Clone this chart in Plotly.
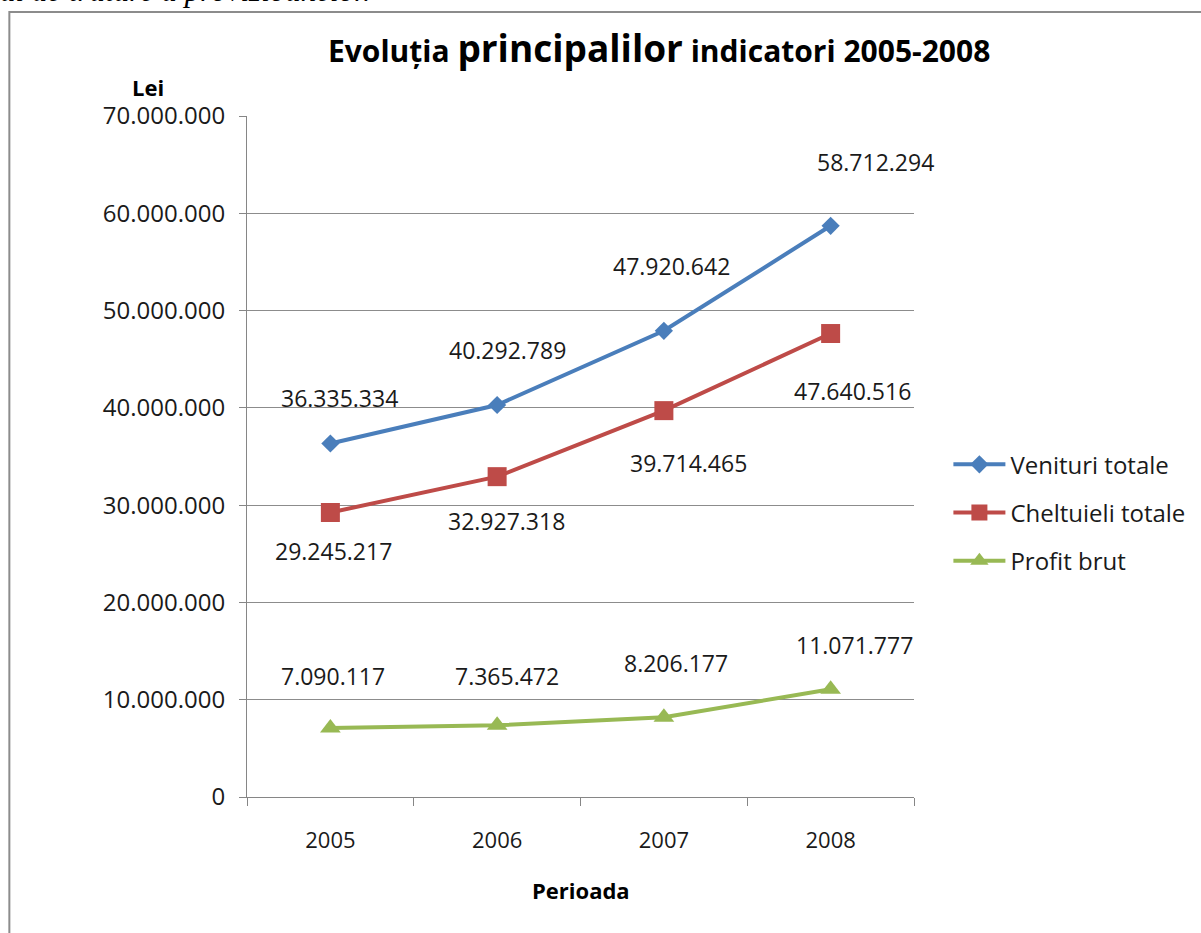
import plotly.graph_objects as go

years = ["2005", "2006", "2007", "2008"]
venituri = [36335334, 40292789, 47920642, 58712294]
cheltuieli = [29245217, 32927318, 39714465, 47640516]
profit = [7090117, 7365472, 8206177, 11071777]
series_names = ["Venituri totale", "Cheltuieli totale", "Profit brut"]
y_ticks = [0, 10000000, 20000000, 30000000, 40000000, 50000000, 60000000, 70000000]

colors = ["#4A7EBB", "#BE4B48", "#98B954"]
symbols = ["diamond", "square", "triangle-up"]
msizes = [14, 19, 18]

# label offsets (pixels) for each series/point
label_dx = [[9, 10, 8, 45], [3, 9, 25, 22], [3, 10, 12, 24]]
label_dy = [[46, 55, 65, 64], [-39, -44, -52, -57], [52, 49, 54, 44]]

FONT = "Open Sans"

def fmt(v):
    return f"{v:,}".replace(",", ".")

fig = go.Figure()
all_series = [venituri, cheltuieli, profit]
for i, vals in enumerate(all_series):
    fig.add_trace(go.Scatter(
        x=years, y=vals, mode="lines+markers", name=series_names[i],
        legendgroup=f"g{i}",
        line=dict(color=colors[i], width=4),
        marker=dict(symbol=symbols[i], size=msizes[i], color=colors[i]),
    ))

annotations = []
for i, vals in enumerate(all_series):
    for j, v in enumerate(vals):
        annotations.append(dict(
            x=j, y=v, xref="x", yref="y", text=fmt(v), showarrow=False,
            xanchor="center", yanchor="middle",
            xshift=label_dx[i][j], yshift=label_dy[i][j],
            font=dict(family=FONT, size=23, color="#1a1a1a"),
        ))

annotations.append(dict(
    x=0.618, y=1.101, xref="paper", yref="paper", showarrow=False,
    xanchor="center", yanchor="middle",
    text="<b>Evoluția <span style='font-size:37px'>principalilor</span> indicatori 2005-2008</b>",
    font=dict(family=FONT, size=30, color="#000000"),
))
annotations.append(dict(
    x=-0.148, y=1.043, xref="paper", yref="paper", showarrow=False,
    xanchor="center", yanchor="middle",
    text="<b>Lei</b>", font=dict(family=FONT, size=22, color="#000000"),
))
annotations.append(dict(
    x=0.5, y=-0.1366, xref="paper", yref="paper", showarrow=False,
    xanchor="center", yanchor="middle",
    text="<b>Perioada</b>", font=dict(family=FONT, size=22, color="#000000"),
))
annotations.append(dict(
    x=-0.374, y=1.156, xref="paper", yref="paper", showarrow=False,
    xanchor="left", yanchor="bottom",
    text="<i>al de tratare a provizioanelor.</i>",
    font=dict(family="Liberation Serif", size=31, color="#000000"),
))

fig.update_layout(
    width=1201, height=933,
    margin=dict(l=247, r=286, t=116, b=136),
    paper_bgcolor="white", plot_bgcolor="white",
    separators=",.",
    showlegend=True,
    legend=dict(
        x=1.05, y=0.521, xanchor="left", yanchor="top",
        font=dict(family=FONT, size=24, color="#1a1a1a"),
        tracegroupgap=14, traceorder="grouped",
        itemwidth=52,
    ),
    annotations=annotations,
    shapes=[dict(
        type="rect", xref="paper", yref="paper",
        x0=(9 - 247) / 668, x1=(1230 - 247) / 668,
        y0=(797 - 960) / 681, y1=(797 - 12) / 681,
        line=dict(color="#8c8c8c", width=2), layer="below",
    )],
)

fig.update_xaxes(
    type="category", range=[-0.5, 3.5],
    showline=True, linecolor="#868686", linewidth=1,
    ticks="outside", tickson="boundaries", ticklen=8, tickcolor="#868686",
    showgrid=False,
    tickfont=dict(family=FONT, size=22, color="#1a1a1a"),
    ticklabelstandoff=24,
)
fig.update_yaxes(
    range=[0, 70000000], tickvals=y_ticks, tickformat=",d",
    showline=True, linecolor="#868686", linewidth=1,
    ticks="outside", ticklen=7, tickcolor="#868686",
    showgrid=True, gridcolor="#8c8c8c", gridwidth=1,
    zeroline=False,
    tickfont=dict(family=FONT, size=24, color="#1a1a1a"),
    ticklabelstandoff=9,
)

fig.write_html("out.html", config={"displayModeBar": False},
               post_script="document.body.style.margin='0';")
